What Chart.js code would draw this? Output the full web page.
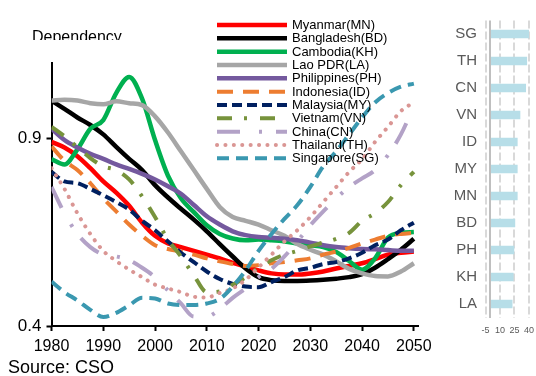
<!DOCTYPE html>
<html><head><meta charset="utf-8">
<script src="https://cdn.jsdelivr.net/npm/chart.js@4"></script>
<style>
html,body{margin:0;padding:0;background:#fff;overflow:hidden}
#wrap{position:relative;width:536px;height:376px;background:#fff}
.box{position:absolute;top:0}
</style></head><body>
<div id="wrap">
<div class="box" style="left:0;width:440px;height:376px"><canvas id="c1" width="440" height="376"></canvas></div>
<div class="box" style="left:440px;width:96px;height:376px"><canvas id="c2" width="96" height="376"></canvas></div>
</div>
<script>
// ---- data ----
const years = [1980,1982.5,1985,1987.5,1990,1992.5,1995,1997.5,2000,2002.5,2005,2007.5,2010,2012.5,2015,2017.5,2020,2022.5,2025,2027.5,2030,2032.5,2035,2037.5,2040,2042.5,2045,2047.5,2050];
const myanmar     = [0.89,0.875,0.852,0.82,0.785,0.755,0.72,0.675,0.64,0.62,0.61,0.6,0.59,0.58,0.568,0.558,0.548,0.54,0.537,0.537,0.54,0.545,0.553,0.56,0.567,0.578,0.59,0.595,0.598];
const bangladesh  = [1.0,0.978,0.955,0.935,0.91,0.877,0.845,0.815,0.775,0.742,0.712,0.683,0.652,0.618,0.585,0.553,0.53,0.522,0.52,0.52,0.521,0.523,0.526,0.53,0.538,0.555,0.578,0.603,0.632];
const cambodia    = [0.844,0.83,0.87,0.925,0.948,1.02,1.063,1.005,0.895,0.8,0.74,0.703,0.668,0.645,0.633,0.628,0.63,0.628,0.625,0.62,0.615,0.61,0.597,0.573,0.55,0.58,0.635,0.648,0.65];
const laoPDR      = [1.0,1.002,1.0,0.993,0.99,0.998,0.993,0.988,0.958,0.915,0.865,0.815,0.765,0.717,0.69,0.68,0.67,0.655,0.64,0.618,0.603,0.59,0.572,0.552,0.54,0.533,0.532,0.545,0.567];
const philippines = [0.925,0.895,0.875,0.858,0.845,0.83,0.818,0.805,0.79,0.772,0.752,0.722,0.692,0.67,0.652,0.642,0.637,0.635,0.632,0.628,0.622,0.615,0.61,0.607,0.605,0.604,0.602,0.6,0.6];
const indonesia   = [0.878,0.84,0.815,0.78,0.74,0.705,0.67,0.64,0.615,0.605,0.598,0.59,0.58,0.572,0.565,0.56,0.562,0.567,0.57,0.575,0.58,0.59,0.598,0.608,0.62,0.63,0.64,0.645,0.648];
const malaysia    = [0.81,0.785,0.78,0.765,0.748,0.73,0.71,0.68,0.655,0.625,0.595,0.57,0.545,0.525,0.512,0.505,0.503,0.517,0.53,0.548,0.555,0.565,0.57,0.58,0.595,0.615,0.63,0.655,0.675];
const vietnam     = [0.93,0.905,0.876,0.847,0.825,0.815,0.79,0.745,0.69,0.63,0.585,0.535,0.49,0.492,0.51,0.53,0.555,0.575,0.59,0.6,0.612,0.622,0.632,0.648,0.68,0.7,0.73,0.775,0.81];
const china       = [0.77,0.7,0.645,0.61,0.59,0.585,0.575,0.555,0.53,0.495,0.46,0.425,0.425,0.445,0.475,0.5,0.53,0.552,0.585,0.625,0.668,0.705,0.74,0.77,0.793,0.815,0.855,0.91,0.985];
const thailand    = [0.82,0.765,0.70,0.645,0.6,0.573,0.55,0.53,0.51,0.5,0.49,0.478,0.476,0.488,0.5,0.523,0.556,0.59,0.625,0.655,0.69,0.73,0.77,0.81,0.844,0.89,0.93,0.972,0.995];
const singapore   = [0.518,0.49,0.468,0.443,0.424,0.435,0.455,0.475,0.473,0.46,0.456,0.456,0.46,0.472,0.505,0.548,0.6,0.645,0.685,0.722,0.77,0.825,0.865,0.91,0.955,0.995,1.02,1.037,1.045];
const seriesLabels = ['Myanmar(MN)','Bangladesh(BD)','Cambodia(KH)','Lao PDR(LA)','Philippines(PH)','Indonesia(ID)','Malaysia(MY)','Vietnam(VN)','China(CN)','Thailand(TH)','Singapore(SG)'];
const xTicks = [1980,1990,2000,2010,2020,2030,2040,2050];
const yTicks = [0.4,0.9];

const barCategories = ['SG','TH','CN','VN','ID','MY','MN','BD','PH','KH','LA'];
const barValues = [40,37.7,36.6,30.7,27.9,27.9,27.9,25.4,24.4,23.7,22.6];
const barTicks = [-5,10,25,40];

// ---- styles ----
const FONT = "'Liberation Sans', Arial, Helvetica, sans-serif";
Chart.defaults.font.family = FONT;
const seriesValues = [myanmar,bangladesh,cambodia,laoPDR,philippines,indonesia,malaysia,vietnam,china,thailand,singapore];
const styles = [
  {c:'#ff0000', w:4.5, d:[]},
  {c:'#000000', w:4.5, d:[]},
  {c:'#00b050', w:4.5, d:[]},
  {c:'#a6a6a6', w:4.5, d:[]},
  {c:'#74599e', w:4.5, d:[]},
  {c:'#ed7d31', w:4, d:[16,10]},
  {c:'#002060', w:4, d:[10,5]},
  {c:'#77933c', w:4, d:[15,12,3,13]},
  {c:'#b3a2c7', w:4, d:[23,19,3,14]},
  {c:'#da9694', w:4, d:[0.1,8.3], cap:'round'},
  {c:'#3a98b0', w:4, d:[12,7]}
];
const datasets = seriesValues.map((vals,i)=>({
  label: seriesLabels[i],
  data: years.map((x,j)=>({x:x, y:vals[j]})),
  borderColor: styles[i].c,
  backgroundColor: styles[i].c,
  borderWidth: styles[i].w,
  borderDash: styles[i].d,
  borderCapStyle: styles[i].cap || 'butt',
  pointRadius: 0,
  fill: false,
  cubicInterpolationMode: 'monotone',
  order: seriesValues.length - i
}));

const decorPlugin = {
  id: 'decor',
  afterDatasetsDraw(chart) {
    const ctx = chart.ctx;
    ctx.save();
    chart.data.datasets.forEach((ds,i)=>{
      const y = 25 + i*13.33;
      ctx.beginPath();
      ctx.lineWidth = ds.borderWidth;
      ctx.strokeStyle = ds.borderColor;
      ctx.setLineDash(ds.borderDash || []);
      ctx.lineCap = ds.borderCapStyle || 'butt';
      ctx.moveTo(217, y); ctx.lineTo(287, y);
      ctx.stroke();
      ctx.setLineDash([]);
      ctx.fillStyle = '#000';
      ctx.font = '13px ' + FONT;
      ctx.textBaseline = 'middle';
      ctx.textAlign = 'left';
      ctx.fillText(ds.label, 292, y + 0.5);
    });
    // title (clipped like the original)
    ctx.save();
    ctx.beginPath(); ctx.rect(0,0,215,40); ctx.clip();
    ctx.fillStyle = '#000';
    ctx.font = '16px ' + FONT;
    ctx.textBaseline = 'alphabetic';
    ctx.fillText('Dependency', 32, 41.5);
    ctx.restore();
    // source
    ctx.fillStyle = '#000';
    ctx.font = '18px ' + FONT;
    ctx.textBaseline = 'alphabetic';
    ctx.fillText('Source: CSO', 8, 373);
    ctx.restore();
  }
};

new Chart(document.getElementById('c1'), {
  type: 'line',
  data: { datasets },
  plugins: [decorPlugin],
  options: {
    responsive: false, animation: false,
    layout: { padding: { left: 0, top: 63, right: 22, bottom: 0 } },
    plugins: { legend: { display: false }, tooltip: { enabled: false }, title: { display: false } },
    scales: {
      x: {
        type: 'linear', min: 1980, max: 2050.8,
        afterBuildTicks: ax => { ax.ticks = xTicks.map(v => ({value: v})); },
        afterFit: s => { s.height = 50; },
        grid: { drawOnChartArea: false, drawTicks: true, tickLength: 5, tickWidth: 2, tickColor: '#000' },
        border: { display: true, color: '#000', width: 2 },
        ticks: { color: '#000', font: { size: 16 }, padding: 6, maxRotation: 0, autoSkip: false, callback: v => String(v) }
      },
      y: {
        type: 'linear', min: 0.4, max: 1.1,
        afterBuildTicks: ax => { ax.ticks = yTicks.map(v => ({value: v})); },
        afterFit: s => { s.width = 51.5; },
        grid: { drawOnChartArea: false, drawTicks: true, tickLength: 5, tickWidth: 2, tickColor: '#000' },
        border: { display: true, color: '#000', width: 2 },
        ticks: { color: '#000', font: { size: 17 }, padding: 5, callback: v => Number(v).toFixed(1) }
      }
    }
  }
});

new Chart(document.getElementById('c2'), {
  type: 'bar',
  data: { labels: barCategories, datasets: [{ data: barValues, backgroundColor: '#b7dee8', borderWidth: 0, barThickness: 8 }] },
  options: {
    responsive: false, animation: false, indexAxis: 'y',
    layout: { padding: { left: 0, top: 20.5, right: 6.7, bottom: 38.5 } },
    plugins: { legend: { display: false }, tooltip: { enabled: false } },
    scales: {
      x: {
        type: 'linear', min: -5, max: 40,
        afterBuildTicks: ax => { ax.ticks = barTicks.concat([0]).sort((a,b)=>a-b).map(v => ({value: v})); },
        afterFit: s => { s.height = 20; },
        grid: { color: c => (c.tick && c.tick.value === 0) ? '#bfbfbf' : '#d9d9d9', lineWidth: 2, drawTicks: true, tickLength: 6, tickColor: 'rgba(0,0,0,0)' },
        border: { display: false, dash: c => (c.tick && c.tick.value === 0) ? [] : [8,3] },
        ticks: { color: '#595959', font: { size: 9 }, padding: 2, maxRotation: 0, autoSkip: false, callback: v => v === 0 ? '' : String(v) }
      },
      y: {
        grid: { display: false, drawTicks: false },
        border: { display: false },
        afterFit: s => { s.width = 45.5; },
        ticks: { color: '#595959', font: { size: 15 }, padding: 8.5 }
      }
    }
  }
});
</script>
</body></html>
